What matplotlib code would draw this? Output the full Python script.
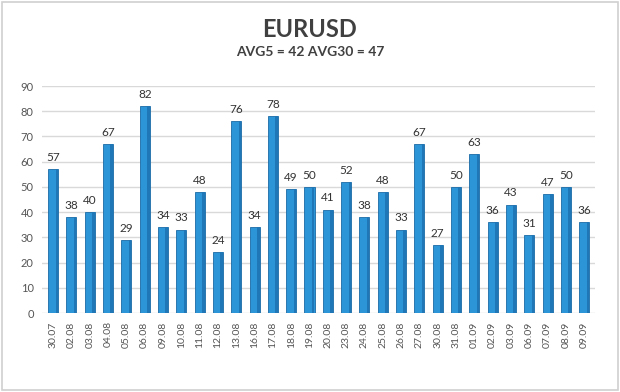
import matplotlib
matplotlib.use("Agg")
import matplotlib.pyplot as plt
from matplotlib.patches import Rectangle

dates = ["30.07", "02.08", "03.08", "04.08", "05.08", "06.08", "09.08", "10.08", "11.08", "12.08",
         "13.08", "16.08", "17.08", "18.08", "19.08", "20.08", "23.08", "24.08", "25.08", "26.08",
         "27.08", "30.08", "31.08", "01.09", "02.09", "03.09", "06.09", "07.09", "08.09", "09.09"]
values = [57, 38, 40, 67, 29, 82, 34, 33, 48, 24,
          76, 34, 78, 49, 50, 41, 52, 38, 48, 33,
          67, 27, 50, 63, 36, 43, 31, 47, 50, 36]
yticks = list(range(0, 100, 10))
title = "EURUSD"
subtitle = "AVG5 = 42 AVG30 = 47"

plt.rcParams['font.family'] = ['Lato', 'DejaVu Sans']

fig = plt.figure(figsize=(6.2, 3.92), dpi=100)
fig.patch.set_facecolor("white")
fig.add_artist(Rectangle((0.003, 0.004), 0.994, 0.992, transform=fig.transFigure,
                         fill=False, edgecolor="#d0d0d0", linewidth=1.2))

ax = fig.add_axes([0.068, 0.2015, 0.892, 0.579])
x = list(range(len(values)))
ax.bar(x, values, width=0.55, color="#2b95d8", edgecolor="#1a6aa5", linewidth=0.6, zorder=3)
# darker side shading
ax.bar([i + 0.2 for i in x], values, width=0.14, color="#1f77b8", linewidth=0, zorder=4)

for i, v in zip(x, values):
    ax.text(i, v + 2.5, str(v), ha="center", va="bottom", fontsize=8.5, color="#333333")

ax.set_xlim(-0.6, len(values) - 0.4)
ax.set_ylim(0, 90)
ax.set_yticks(yticks)
ax.set_yticklabels([str(t) for t in yticks], fontsize=8, color="#555555")
ax.set_xticks(x)
ax.set_xticklabels(dates, rotation=90, fontsize=7.5, color="#555555")
ax.tick_params(length=0, pad=6)
ax.grid(axis="y", color="#d9d9d9", linewidth=1, zorder=0)
for s in ax.spines.values():
    s.set_visible(False)

fig.text(0.5, 0.925, title, ha="center", va="center", fontsize=17, fontweight="bold", color="#404040")
fig.text(0.5, 0.868, subtitle, ha="center", va="center", fontsize=10, fontweight="bold", color="#404040")

fig.savefig("out.png", dpi=100)
